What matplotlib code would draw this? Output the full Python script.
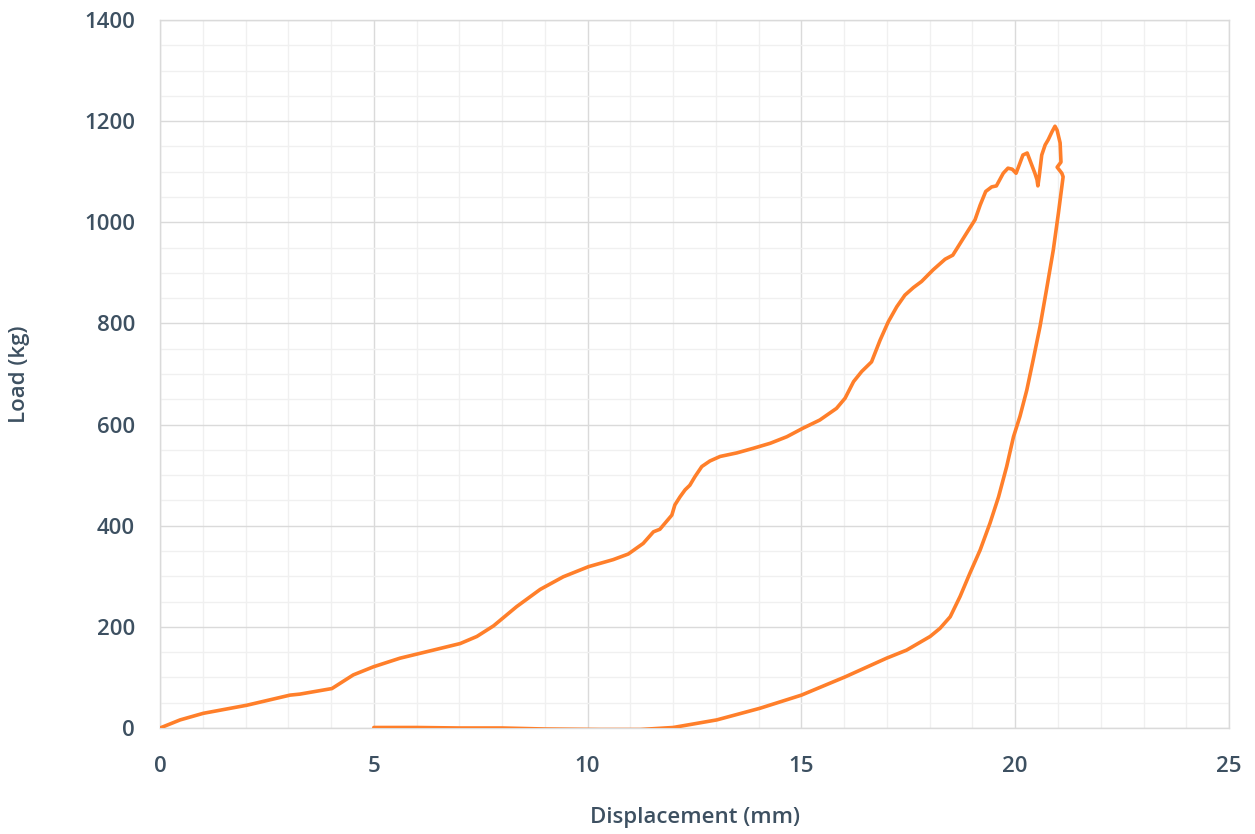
import matplotlib
matplotlib.use("Agg")
import matplotlib.pyplot as plt
from matplotlib.ticker import MultipleLocator

# displacement (mm) / load (kg), loading then unloading
displacement = [
    0.0, 0.47, 1.01, 2.03, 3.04, 3.27, 4.02, 4.52, 4.99, 5.61, 6.39, 7.02,
    7.41, 7.80, 8.34, 8.89, 9.43, 10.02, 10.60, 10.95, 11.30, 11.54, 11.69,
    11.81, 11.97, 12.04, 12.16, 12.28, 12.39, 12.51, 12.67, 12.86, 13.10,
    13.49, 13.87, 14.27, 14.66, 15.04, 15.43, 15.82, 16.02, 16.22, 16.41,
    16.64, 16.84, 17.03, 17.23, 17.42, 17.62, 17.81, 18.08, 18.36, 18.54,
    18.71, 18.91, 19.06, 19.18, 19.31, 19.45, 19.56, 19.72, 19.83, 19.93,
    20.02, 20.11, 20.18, 20.28, 20.37, 20.46, 20.51, 20.53, 20.56, 20.62,
    20.70, 20.77, 20.86, 20.93, 20.98, 21.05, 21.07, 20.98, 21.09, 21.12,
    # unloading
    21.01, 20.89, 20.73, 20.58, 20.42, 20.27, 20.11, 19.96, 19.80, 19.61,
    19.41, 19.18, 18.94, 18.71, 18.48, 18.24, 18.01, 17.46, 16.99, 16.02,
    15.0, 14.03, 13.02, 12.0, 11.23, 10.3, 9.0, 8.0, 7.0, 6.0, 5.0,
]
load = [
    0, 16, 29, 45, 65, 67, 78, 105, 121, 138, 154, 167,
    181, 202, 240, 274, 299, 319, 333, 344, 365, 388, 393,
    405, 421, 441, 457, 471, 480, 497, 517, 528, 537,
    544, 553, 563, 576, 593, 609, 632, 652, 685, 705,
    724, 767, 803, 833, 856, 871, 883, 906, 927, 935,
    958, 985, 1005, 1034, 1061, 1070, 1072, 1097, 1107, 1105,
    1097, 1117, 1133, 1137, 1117, 1097, 1084, 1072, 1090, 1133,
    1153, 1163, 1179, 1190, 1182, 1157, 1119, 1109, 1097, 1090,
    1018, 945, 866, 794, 728, 668, 616, 576, 517, 457,
    405, 352, 306, 260, 220, 197, 181, 154, 138, 101,
    65, 39, 16, 1, -3, -3, -2, 0, 0, 1, 1,
]

text_color = "#3d5061"
font = ["Open Sans", "DejaVu Sans"]

fig = plt.figure(figsize=(12.55, 8.34), dpi=100)
ax = fig.add_axes([0.1275, 0.1271, 0.8518, 0.8489])

ax.plot(displacement, load, color="#ff7f2a", linewidth=2.6,
        solid_joinstyle="round", solid_capstyle="round", zorder=3)

ax.set_xlim(0, 25)
ax.set_ylim(0, 1400)
ax.xaxis.set_major_locator(MultipleLocator(5))
ax.xaxis.set_minor_locator(MultipleLocator(1))
ax.yaxis.set_major_locator(MultipleLocator(200))
ax.yaxis.set_minor_locator(MultipleLocator(50))

ax.grid(which="major", color="#dadada", linewidth=1.0)
ax.grid(which="minor", color="#f0f0f0", linewidth=1.0)
ax.set_axisbelow(True)
for s in ax.spines.values():
    s.set_color("#dadada")
    s.set_linewidth(1.0)

ax.tick_params(which="both", length=0)
ax.tick_params(axis="x", pad=20)
ax.tick_params(axis="y", pad=18)
for lbl in ax.get_xticklabels() + ax.get_yticklabels():
    lbl.set_fontfamily(font)
    lbl.set_fontsize(16)
    lbl.set_fontweight(600)
    lbl.set_color(text_color)

ax.set_xlabel("Displacement (mm)", fontfamily=font, fontsize=16,
              fontweight=600, color=text_color, va="center")
ax.set_ylabel("Load (kg)", fontfamily=font, fontsize=16,
              fontweight=600, color=text_color, va="center")
ax.xaxis.set_label_coords(0.5, -0.127)
ax.yaxis.set_label_coords(-0.131, 0.5)

fig.savefig("out.png", dpi=100, facecolor="white")
